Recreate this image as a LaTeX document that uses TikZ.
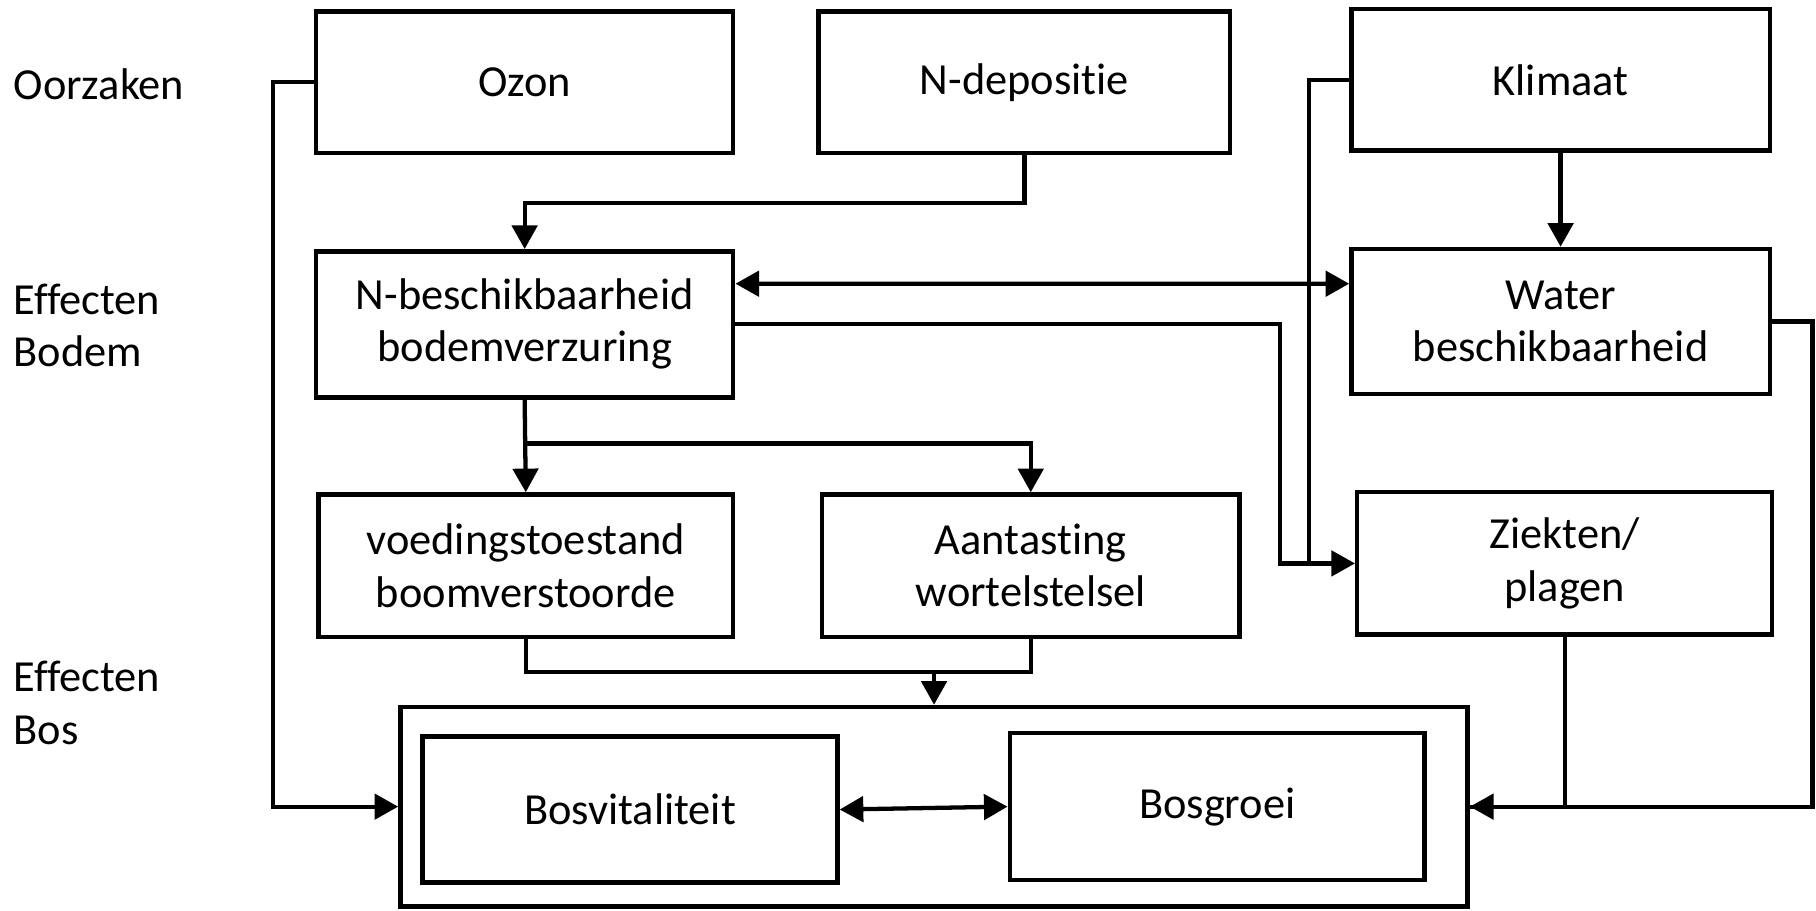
\documentclass[tikz,border=0pt]{standalone}
\usepackage{fontspec}
\setmainfont[Ligatures=NoCommon]{Carlito}
\usetikzlibrary{arrows.meta,calc}
\begin{document}
\begin{tikzpicture}[x=0.01cm,y=-0.01cm,
  font=\fontsize{10.9}{12.8}\selectfont,
  line width=1.05pt, line join=miter,
  box/.style={draw, line width=1.1pt, align=center, inner sep=0pt},
  lbl/.style={anchor=west, align=left, inner sep=0pt},
  arr/.style={-{Triangle[length=5.8pt,width=6.2pt]}},
  darr/.style={{Triangle[length=5.8pt,width=6.2pt]}-{Triangle[length=5.8pt,width=6.2pt]}}]
\useasboundingbox (0,0) rectangle (1568,786);
% side labels
\node[lbl] (l1) at (10,73) {Oorzaken};
\node[lbl] (l2) at (10,281) {Effecten\\Bodem};
\node[lbl] (l3) at (10,607) {Effecten\\Bos};
% boxes
\node[box, minimum width=3.60cm, minimum height=1.22cm] (ozon) at (453,71) {Ozon};
\node[box, minimum width=3.55cm, minimum height=1.22cm] (ndep) at (884.5,71) {N-depositie};
\node[box, minimum width=3.61cm, minimum height=1.22cm] (klim) at (1347.5,69) {Klimaat};
\node[box, minimum width=3.60cm, minimum height=1.26cm] (nbes) at (453,280) {N-beschikbaarheid\\bodemverzuring};
\node[box, minimum width=3.61cm, minimum height=1.25cm] (water) at (1347.5,277.5) {Water\\beschikbaarheid};
\node[box, minimum width=3.58cm, minimum height=1.23cm] (voed) at (454,488.5) {voedingstoestand\\boomverstoorde};
\node[box, minimum width=3.60cm, minimum height=1.23cm] (aant) at (890,488.5) {Aantasting\\wortelstelsel};
\node[box, minimum width=3.58cm, minimum height=1.23cm] (ziek) at (1351,486.5) {Ziekten/\\plagen};
\node[box, minimum width=9.21cm, minimum height=1.72cm] (outer) at (806.5,696.5) {};
\node[box, minimum width=3.58cm, minimum height=1.26cm] (bosv) at (544,699) {Bosvitaliteit};
\node[box, minimum width=3.58cm, minimum height=1.27cm] (bosg) at (1051,696.5) {Bosgroei};
% connectors
\coordinate (oz1) at (236,71);
\draw[arr] (ozon.west) -- (oz1) |- (outer.west);
\coordinate (nd1) at (884.5,175);
\draw[arr] (ndep.south) -- (nd1) -| (nbes.north);
\draw[arr] (klim.south) -- (water.north);
\draw[darr] ([yshift=0.35cm]nbes.east) -- ([yshift=0.325cm]water.west);
\coordinate (nz1) at (1105,280);
\draw[arr] (nbes.east) -- (nz1) |- (ziek.west);
\coordinate (kz1) at (1130,69);
\coordinate (kz2) at (1130,486.5);
\draw (klim.west) -- (kz1) -- (kz2);
\draw[arr] (nbes.south) -- (voed.north);
\coordinate (br1) at (453,383);
\draw[arr] (br1) -| (aant.north);
\coordinate (vj1) at (454,580);
\coordinate (jn) at (806.5,580);
\draw (voed.south) -- (vj1) -| (aant.south);
\draw[arr] (jn) -- (outer.north);
\coordinate (wz1) at (1565,277.5);
\draw (water.east) -- (wz1) |- (outer.east);
\draw[arr] (ziek.south) |- (outer.east);
\draw[darr] (bosv.east) -- (bosg.west);
\end{tikzpicture}
\end{document}
